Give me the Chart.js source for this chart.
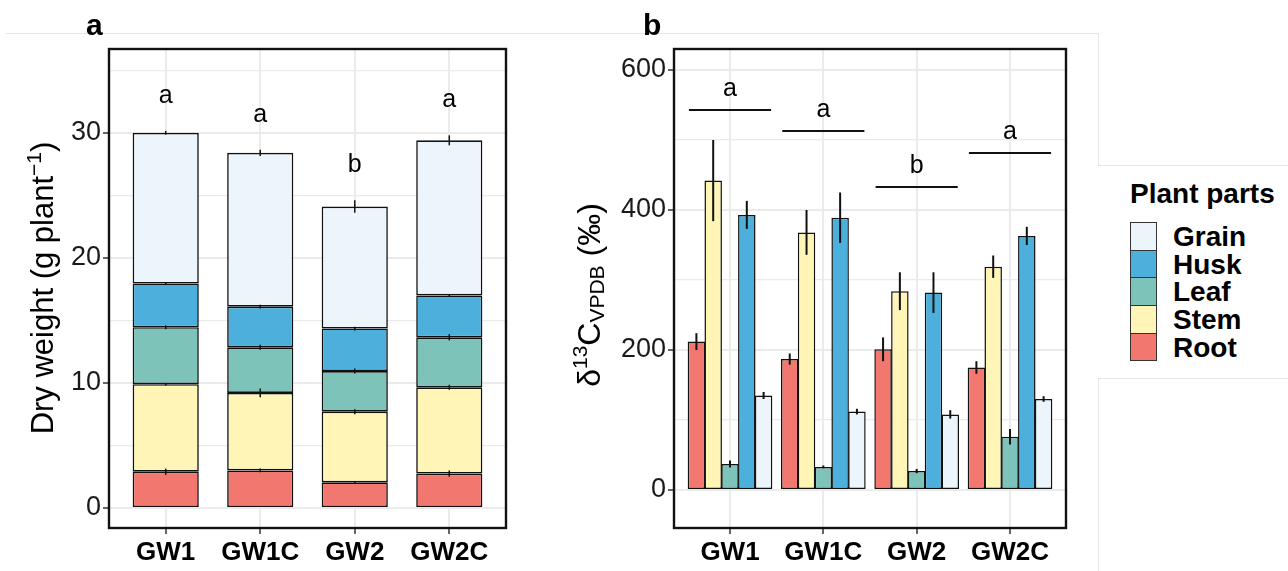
<!DOCTYPE html>
<html>
<head>
<meta charset="utf-8">
<script src="https://cdn.jsdelivr.net/npm/chart.js@4.4.1/dist/chart.umd.min.js"></script>
<style>
  html, body { margin: 0; padding: 0; background: #fff; }
  #page { position: relative; width: 1288px; height: 571px; overflow: hidden; font-family: 'Liberation Sans', Arial, sans-serif; }
  canvas { position: absolute; top: 0; }
  #chartA { left: 0; }
  #chartB { left: 560px; }
  .faint { position: absolute; background: #e6e6e6; }
  .lg-title { position: absolute; font-weight: bold; font-size: 28px; color: #000; white-space: nowrap; }
  .lg-box { position: absolute; box-sizing: border-box; border: 1.5px solid #333; }
  .lg-text { position: absolute; font-weight: bold; font-size: 28px; color: #000; white-space: nowrap; line-height: 28px; }
</style>
</head>
<body>
<div id="page">
  <div class="faint" style="left:6px; top:33px; width:1093px; height:1px;"></div>
  <div class="faint" style="left:1098px; top:33px; width:1px; height:133px;"></div>
  <div class="faint" style="left:1098px; top:165px; width:190px; height:1px;"></div>
  <div class="faint" style="left:1098px; top:378px; width:190px; height:1px;"></div>
  <div class="faint" style="left:1098px; top:378px; width:1px; height:193px;"></div>
  <canvas id="chartA" width="560" height="571"></canvas>
  <canvas id="chartB" width="540" height="571"></canvas>
  <div id="legend"></div>
</div>
<script>
const FONT = "'Liberation Sans', Arial, sans-serif";

// groups and plant parts
const groups = ['GW1', 'GW1C', 'GW2', 'GW2C'];
const parts = ['Root', 'Stem', 'Leaf', 'Husk', 'Grain'];
const partColors = ['#F2786F', '#FFF5B6', '#7DC3B9', '#4DB0DC', '#EDF5FC'];

// panel a: dry weight (g plant-1), stacked
const dwRoot  = [2.9, 3.0, 2.05, 2.75];
const dwStem  = [7.0, 6.2, 5.65, 6.9];
const dwLeaf  = [4.55, 3.65, 3.25, 4.0];
const dwHusk  = [3.5, 3.25, 3.4, 3.35];
const dwGrain = [12.05, 12.3, 9.75, 12.4];
const dwRootErr  = [0.25, 0.15, 0.1, 0.25];
const dwStemErr  = [0.1, 0.35, 0.2, 0.2];
const dwLeafErr  = [0.15, 0.2, 0.2, 0.25];
const dwHuskErr  = [0.1, 0.15, 0.15, 0.1];
const dwGrainErr = [0.15, 0.25, 0.5, 0.4];
const lettersA = ['a', 'a', 'b', 'a'];

// panel b: d13C VPDB (per mil)
const d13Root  = [212, 187, 201, 175];
const d13Stem  = [442, 368, 284, 319];
const d13Leaf  = [37, 33, 27, 76];
const d13Husk  = [393, 389, 282, 363];
const d13Grain = [135, 112, 108, 130];
const d13RootErr  = [12, 8, 17, 9];
const d13StemErr  = [58, 32, 27, 16];
const d13LeafErr  = [5, 2, 3, 11];
const d13HuskErr  = [20, 36, 29, 13];
const d13GrainErr = [5, 4, 6, 4];
const sigLineB = [543, 513, 433, 481];
const lettersB = ['a', 'a', 'b', 'a'];

const dwTicks = [0, 5, 10, 15, 20, 25, 30, 35];
const d13Ticks = [0, 100, 200, 300, 400, 500, 600];

const dwData = [dwRoot, dwStem, dwLeaf, dwHusk, dwGrain];
const dwErr = [dwRootErr, dwStemErr, dwLeafErr, dwHuskErr, dwGrainErr];
const d13Data = [d13Root, d13Stem, d13Leaf, d13Husk, d13Grain];
const d13Err = [d13RootErr, d13StemErr, d13LeafErr, d13HuskErr, d13GrainErr];

Chart.defaults.font.family = FONT;
Chart.defaults.color = '#1a1a1a';

const toPoints = arr => arr.map((v, i) => ({ x: i + 1, y: v }));

// draws a rotated axis title made of runs (for super/subscripts)
function drawRotatedRuns(ctx, runs, baseX, centerY) {
  ctx.save();
  let total = 0;
  runs.forEach(r => {
    ctx.font = r.size + 'px ' + FONT;
    r.w = ctx.measureText(r.t).width;
    total += r.w;
  });
  ctx.translate(baseX, centerY);
  ctx.rotate(-Math.PI / 2);
  ctx.fillStyle = '#000';
  ctx.textBaseline = 'alphabetic';
  ctx.textAlign = 'left';
  let x = -total / 2;
  runs.forEach(r => {
    ctx.font = r.size + 'px ' + FONT;
    ctx.fillText(r.t, x, r.dy);
    x += r.w;
  });
  ctx.restore();
}

function panelFrame(label, titleRuns, titleX, titleY) {
  return {
    id: 'panelFrame',
    afterDraw(chart) {
      const { ctx, chartArea } = chart;
      ctx.save();
      ctx.strokeStyle = '#111';
      ctx.lineWidth = 2.4;
      ctx.strokeRect(chartArea.left, chartArea.top, chartArea.right - chartArea.left, chartArea.bottom - chartArea.top);
      ctx.fillStyle = '#000';
      ctx.font = 'bold 30px ' + FONT;
      ctx.textBaseline = 'alphabetic';
      ctx.fillText(label, titleX, 35);
      ctx.restore();
      drawRotatedRuns(ctx, titleRuns, titleY.x, titleY.y);
    }
  };
}

function xScale() {
  return {
    type: 'linear',
    min: 0.4,
    max: 4.6,
    offset: false,
    afterBuildTicks: scale => { scale.ticks = groups.map((g, i) => ({ value: i + 1 })); },
    afterFit: scale => { scale.height = 43; },
    border: { display: false },
    grid: { offset: false, color: '#ebebeb', lineWidth: 2, tickColor: '#333', tickWidth: 1.5, tickLength: 6 },
    ticks: {
      autoSkip: false, maxRotation: 0, padding: 3,
      color: '#000',
      font: { size: 26, weight: 'bold' },
      callback: v => groups[v - 1] || ''
    }
  };
}

function yScale(min, max, ticks, major) {
  return {
    type: 'linear',
    min: min,
    max: max,
    afterBuildTicks: scale => { scale.ticks = ticks.map(v => ({ value: v })); },
    border: { display: false },
    grid: {
      color: '#ebebeb',
      lineWidth: c => (c.tick && c.tick.value % major === 0) ? 2 : 1.3,
      tickColor: c => (c.tick && c.tick.value % major === 0) ? '#333' : 'rgba(0,0,0,0)',
      tickWidth: 1.5,
      tickLength: 6
    },
    ticks: {
      padding: 2,
      color: '#1a1a1a',
      font: { size: 27 },
      callback: v => (v % major === 0 ? v : '')
    }
  };
}

// panel a: stacked bars + error bars + letters
const errorBarsA = {
  id: 'errorBarsA',
  afterDatasetsDraw(chart) {
    const { ctx } = chart;
    const y = chart.scales.y;
    ctx.save();
    ctx.strokeStyle = '#111';
    ctx.lineWidth = 1.5;
    groups.forEach((g, j) => {
      let cum = 0;
      dwData.forEach((arr, i) => {
        cum += arr[j];
        const bx = chart.getDatasetMeta(i).data[j].x;
        ctx.beginPath();
        ctx.moveTo(bx, y.getPixelForValue(cum - dwErr[i][j]));
        ctx.lineTo(bx, y.getPixelForValue(cum + dwErr[i][j]));
        ctx.stroke();
        if (i === dwData.length - 1) {
          ctx.fillStyle = '#000';
          ctx.font = '25px ' + FONT;
          ctx.textAlign = 'center';
          ctx.textBaseline = 'alphabetic';
          ctx.fillText(lettersA[j], bx, y.getPixelForValue(cum + dwErr[i][j]) - 28);
        }
      });
    });
    ctx.restore();
  }
};

new Chart(document.getElementById('chartA'), {
  type: 'bar',
  data: {
    datasets: parts.map((p, i) => ({
      label: p,
      data: toPoints(dwData[i]),
      backgroundColor: partColors[i],
      borderColor: '#111',
      borderWidth: 1.6,
      borderSkipped: false,
      categoryPercentage: 1,
      barPercentage: 0.7
    }))
  },
  options: {
    responsive: false,
    animation: false,
    layout: { padding: { left: 0, right: 54, top: 49, bottom: 0 } },
    plugins: { legend: { display: false }, tooltip: { enabled: false } },
    scales: {
      x: Object.assign(xScale(), { stacked: true }),
      y: Object.assign(yScale(-1.6, 36.7, dwTicks, 10), {
        stacked: true,
        afterFit: scale => { scale.width = 109; }
      })
    }
  },
  plugins: [errorBarsA, panelFrame('a',
    [{ t: 'Dry weight (g plant', size: 31, dy: 0 }, { t: '\u22121', size: 21, dy: -12 }, { t: ')', size: 31, dy: 0 }],
    86, { x: 53, y: 288 })]
});

// panel b: grouped bars + error bars + significance lines
const errorBarsB = {
  id: 'errorBarsB',
  afterDatasetsDraw(chart) {
    const { ctx } = chart;
    const x = chart.scales.x, y = chart.scales.y;
    ctx.save();
    ctx.strokeStyle = '#111';
    ctx.lineWidth = 2;
    d13Data.forEach((arr, i) => {
      const meta = chart.getDatasetMeta(i);
      arr.forEach((v, j) => {
        const bx = meta.data[j].x;
        ctx.beginPath();
        ctx.moveTo(bx, y.getPixelForValue(v - d13Err[i][j]));
        ctx.lineTo(bx, y.getPixelForValue(v + d13Err[i][j]));
        ctx.stroke();
      });
    });
    const half = x.getPixelForValue(1.44) - x.getPixelForValue(1);
    groups.forEach((g, j) => {
      const cx = x.getPixelForValue(j + 1);
      const ly = Math.round(y.getPixelForValue(sigLineB[j]));
      ctx.beginPath();
      ctx.moveTo(cx - half, ly);
      ctx.lineTo(cx + half, ly);
      ctx.stroke();
      ctx.fillStyle = '#000';
      ctx.font = '25px ' + FONT;
      ctx.textAlign = 'center';
      ctx.textBaseline = 'alphabetic';
      ctx.fillText(lettersB[j], cx, ly - 14);
    });
    ctx.restore();
  }
};

new Chart(document.getElementById('chartB'), {
  type: 'bar',
  data: {
    datasets: parts.map((p, i) => ({
      label: p,
      data: toPoints(d13Data[i]),
      backgroundColor: partColors[i],
      borderColor: '#111',
      borderWidth: 1.5,
      borderSkipped: false,
      categoryPercentage: 0.9,
      barPercentage: 1.04
    }))
  },
  options: {
    responsive: false,
    animation: false,
    layout: { padding: { left: 0, right: 34, top: 49, bottom: 0 } },
    plugins: { legend: { display: false }, tooltip: { enabled: false } },
    scales: {
      x: xScale(),
      y: Object.assign(yScale(-54.3, 630, d13Ticks, 200), {
        afterFit: scale => { scale.width = 114; }
      })
    }
  },
  plugins: [errorBarsB, panelFrame('b',
    [{ t: '\u03B4', size: 32, dy: 0 }, { t: '13', size: 21, dy: -13 }, { t: 'C', size: 32, dy: 0 },
     { t: 'VPDB', size: 21, dy: 4 }, { t: ' (\u2030)', size: 32, dy: 0 }],
    83, { x: 40, y: 295 })]
});

// legend (top to bottom: Grain ... Root)
const legend = document.getElementById('legend');
let html = '<div class="lg-title" style="left:1130px; top:178px;">Plant parts</div>';
parts.slice().reverse().forEach((p, k) => {
  const color = partColors[parts.indexOf(p)];
  const top = 222 + k * 27.7;
  html += '<div class="lg-box" style="left:1130px; top:' + top + 'px; width:27px; height:28.5px; background:' + color + ';"></div>';
  html += '<div class="lg-text" style="left:1173px; top:' + (top + 1) + 'px;">' + p + '</div>';
});
legend.innerHTML = html;
</script>
</body>
</html>
